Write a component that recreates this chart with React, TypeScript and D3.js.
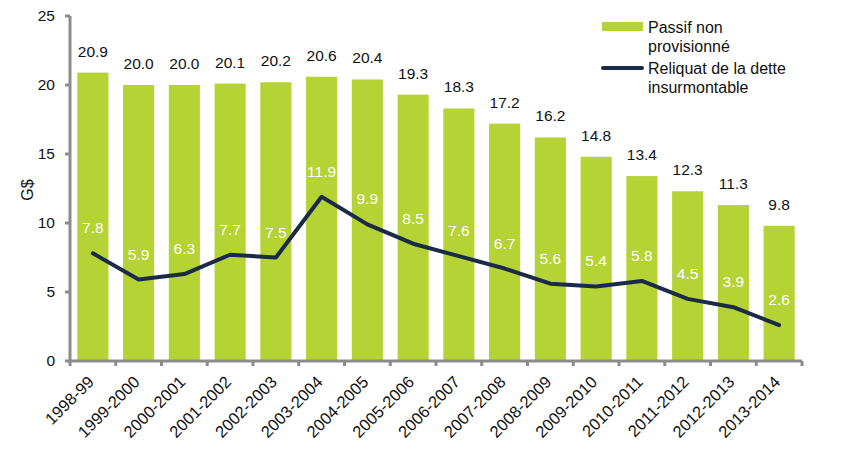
import * as d3 from "d3";

// Chart data
const YEARS = [
  "1998-99", "1999-2000", "2000-2001", "2001-2002", "2002-2003", "2003-2004",
  "2004-2005", "2005-2006", "2006-2007", "2007-2008", "2008-2009", "2009-2010",
  "2010-2011", "2011-2012", "2012-2013", "2013-2014",
];
const PASSIF = [20.9, 20.0, 20.0, 20.1, 20.2, 20.6, 20.4, 19.3, 18.3, 17.2, 16.2, 14.8, 13.4, 12.3, 11.3, 9.8];
const RELIQUAT = [7.8, 5.9, 6.3, 7.7, 7.5, 11.9, 9.9, 8.5, 7.6, 6.7, 5.6, 5.4, 5.8, 4.5, 3.9, 2.6];
const Y_TICKS = [0, 5, 10, 15, 20, 25];

const WIDTH = 851;
const HEIGHT = 473;
const PLOT = { left: 70, right: 802, top: 16, bottom: 361 };
const BAR_COLOR = "#b5d334";
const LINE_COLOR = "#1b2a47";
const AXIS_COLOR = "#8c8c8c";
const FONT = "'Liberation Sans', Arial, sans-serif";

export default function App() {
  const x = d3.scaleBand<string>()
    .domain(YEARS)
    .range([PLOT.left, PLOT.right])
    .paddingInner(0.32)
    .paddingOuter(0.16);

  const y = d3.scaleLinear().domain([0, 25]).range([PLOT.bottom, PLOT.top]);

  const cx = (d: string) => (x(d) ?? 0) + x.bandwidth() / 2;

  const line = d3.line<number>()
    .x((_, i) => cx(YEARS[i]))
    .y((v) => y(v));

  const step = (PLOT.right - PLOT.left) / YEARS.length;

  return (
    <svg
      width={WIDTH}
      height={HEIGHT}
      style={{ position: "absolute", left: 0, top: 0, fontFamily: FONT }}
    >
      <rect width={WIDTH} height={HEIGHT} fill="#fff" />

      {/* Bars */}
      {YEARS.map((yr, i) => (
        <rect
          key={yr}
          x={x(yr)}
          y={y(PASSIF[i])}
          width={x.bandwidth()}
          height={y(0) - y(PASSIF[i])}
          fill={BAR_COLOR}
        />
      ))}

      {/* Bar value labels */}
      {YEARS.map((yr, i) => (
        <text
          key={"bl" + yr}
          x={cx(yr)}
          y={y(PASSIF[i]) - 16}
          textAnchor="middle"
          fontSize={15.5}
          fill="#111"
        >
          {PASSIF[i].toFixed(1)}
        </text>
      ))}

      {/* Line */}
      <path
        d={line(RELIQUAT) || undefined}
        fill="none"
        stroke={LINE_COLOR}
        strokeWidth={4}
        strokeLinejoin="round"
        strokeLinecap="round"
      />

      {/* Line value labels */}
      {YEARS.map((yr, i) => (
        <text
          key={"ll" + yr}
          x={cx(yr)}
          y={y(RELIQUAT[i]) - 20}
          textAnchor="middle"
          fontSize={15.5}
          fill="#fff"
        >
          {RELIQUAT[i].toFixed(1)}
        </text>
      ))}

      {/* Y axis */}
      <line x1={PLOT.left} x2={PLOT.left} y1={y(25)} y2={y(0)} stroke={AXIS_COLOR} strokeWidth={3} />
      {Y_TICKS.map((t) => (
        <g key={"yt" + t}>
          <line x1={PLOT.left - 5} x2={PLOT.left} y1={y(t)} y2={y(t)} stroke={AXIS_COLOR} strokeWidth={3} />
          <text x={55} y={y(t)} dy="0.35em" textAnchor="end" fontSize={15.5} fill="#111">
            {t}
          </text>
        </g>
      ))}
      <text
        transform={`translate(33, 190) rotate(-90)`}
        textAnchor="middle"
        fontSize={16}
        fill="#111"
      >
        G$
      </text>

      {/* X axis */}
      <line x1={PLOT.left - 1.5} x2={PLOT.right} y1={y(0)} y2={y(0)} stroke={AXIS_COLOR} strokeWidth={3} />
      {d3.range(YEARS.length + 1).map((k) => (
        <line
          key={"xt" + k}
          x1={PLOT.left + k * step}
          x2={PLOT.left + k * step}
          y1={y(0)}
          y2={y(0) + 5}
          stroke={AXIS_COLOR}
          strokeWidth={3}
        />
      ))}
      {YEARS.map((yr) => (
        <text
          key={"xl" + yr}
          transform={`translate(${cx(yr) + 2}, ${y(0) + 22}) rotate(-45)`}
          textAnchor="end"
          fontSize={16.5}
          fill="#111"
        >
          {yr}
        </text>
      ))}

      {/* Legend */}
      <rect x={602} y={22} width={41} height={9} fill={BAR_COLOR} />
      <text x={648} y={33} fontSize={16} fill="#111">Passif  non</text>
      <text x={648} y={52} fontSize={16} fill="#111">provisionné</text>
      <line x1={603} x2={642} y1={68} y2={68} stroke={LINE_COLOR} strokeWidth={4} strokeLinecap="round" />
      <text x={648} y={74} fontSize={16} fill="#111">Reliquat  de la dette</text>
      <text x={648} y={93} fontSize={16} fill="#111">insurmontable</text>
    </svg>
  );
}
